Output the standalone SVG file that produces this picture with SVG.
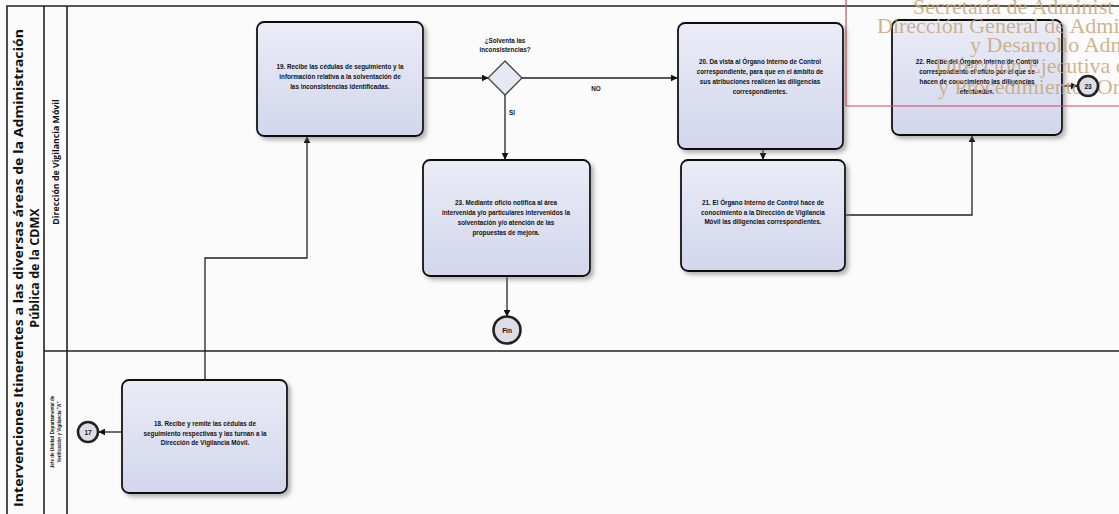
<svg xmlns="http://www.w3.org/2000/svg" width="1119" height="514" viewBox="0 0 1119 514">
  <defs>
    <linearGradient id="taskFill" x1="0" y1="0" x2="0" y2="1">
      <stop offset="0" stop-color="#eaecf7"/>
      <stop offset="1" stop-color="#d3d6ec"/>
    </linearGradient>
    <filter id="shadow" x="-10%" y="-10%" width="130%" height="130%">
      <feDropShadow dx="3" dy="3" stdDeviation="2" flood-color="#777" flood-opacity="0.55"/>
    </filter>
    <marker id="arrow" viewBox="0 0 10 10" refX="9" refY="5" markerWidth="7" markerHeight="7" orient="auto" markerUnits="userSpaceOnUse">
      <path d="M0,0 L10,5 L0,10 Z" fill="#111"/>
    </marker>
    <style>
      .frame { fill: none; stroke: #222; stroke-width: 1.6; }
      .task { fill: url(#taskFill); stroke: #111; stroke-width: 1.8; filter: url(#shadow); }
      .tt { font-family: "Liberation Sans", Arial, sans-serif; font-weight: bold; font-size: 6.3px; fill: #111; text-anchor: middle; }
      .flow { fill: none; stroke: #222; stroke-width: 1.3; }
      .end { fill: #dcdde6; stroke: #222; stroke-width: 2.6; }
      .et { font-family: "Liberation Sans", Arial, sans-serif; font-weight: bold; font-size: 6.5px; fill: #111; text-anchor: middle; }
      .title { font-family: "Open Sans", "Liberation Sans", sans-serif; font-weight: bold; font-size: 12.5px; fill: #111; text-anchor: middle; }
      .lane { font-family: "Open Sans", "Liberation Sans", sans-serif; font-weight: bold; font-size: 8.8px; fill: #111; text-anchor: middle; }
      .lane2 { font-family: "Liberation Sans", Arial, sans-serif; font-weight: bold; font-size: 4.6px; fill: #111; text-anchor: middle; }
      .lbl { font-family: "Liberation Sans", Arial, sans-serif; font-weight: bold; font-size: 6.3px; fill: #111; text-anchor: middle; }
      .stamp { font-family: "Liberation Serif", "Times New Roman", serif; font-size: 22px; fill: #c7a679; fill-opacity: 0.85; }
    </style>
  </defs>

  <rect x="0" y="0" width="1119" height="514" fill="#fbfbfb"/>

  <!-- pool and lanes -->
  <g id="pool">
    <path class="frame" d="M1119,6 H7 V514"/>
    <line class="frame" x1="44" y1="6" x2="44" y2="514"/>
    <line class="frame" x1="67" y1="6" x2="67" y2="514"/>
    <line class="frame" x1="44" y1="351" x2="1119" y2="351"/>
    <text class="title" transform="translate(23,268) rotate(-90)" textLength="478" lengthAdjust="spacingAndGlyphs">Intervenciones Itinerentes a las diversas áreas de la Administración</text>
    <text class="title" transform="translate(39,268) rotate(-90)">Pública de la CDMX</text>
    <text class="lane" transform="translate(59,162) rotate(-90)">Dirección de Vigilancia Móvil</text>
    <text class="lane2" transform="translate(54,432) rotate(-90)">Jefe de Unidad Departamental de</text>
    <text class="lane2" transform="translate(61,432) rotate(-90)">Verificación y Vigilancia "A"</text>
  </g>

  <!-- sequence flows -->
  <g id="connectors">
    <path class="flow" d="M205,380 V258 H307 V137" marker-end="url(#arrow)"/>
    <path class="flow" d="M423,78 H488" marker-end="url(#arrow)"/>
    <path class="flow" d="M522,78 H677" marker-end="url(#arrow)"/>
    <path class="flow" d="M505,95 V159" marker-end="url(#arrow)"/>
    <path class="flow" d="M763,149 V159" marker-end="url(#arrow)"/>
    <path class="flow" d="M845,215 H972 V136" marker-end="url(#arrow)"/>
    <path class="flow" d="M1062,86 H1077" marker-end="url(#arrow)"/>
    <path class="flow" d="M507,276 V316" marker-end="url(#arrow)"/>
    <path class="flow" d="M122,432 H99" marker-end="url(#arrow)"/>
    <text class="lbl" x="596" y="91">NO</text>
    <text class="lbl" x="512" y="115">SI</text>
  </g>

  <g id="task18">
    <rect class="task" x="122" y="380" width="165" height="113" rx="7"/>
    <text class="tt" x="205" y="426">18. Recibe y remite las cédulas de</text>
    <text class="tt" x="205" y="435.5">seguimiento respectivas y las turnan a la</text>
    <text class="tt" x="205" y="445">Dirección de Vigilancia Móvil.</text>
  </g>

  <g id="task19">
    <rect class="task" x="257" y="22" width="166" height="114" rx="7"/>
    <text class="tt" x="340" y="69">19. Recibe las cédulas de seguimiento y la</text>
    <text class="tt" x="340" y="79">información relativa a la solventación de</text>
    <text class="tt" x="340" y="89">las inconsistencias identificadas.</text>
  </g>

  <g id="gateway">
    <path d="M505,61 L522,78 L505,95 L488,78 Z" fill="#e6e8f4" stroke="#444" stroke-width="1.3"/>
    <text class="lbl" x="505" y="43">¿Solventa las</text>
    <text class="lbl" x="505" y="52">inconsistencias?</text>
  </g>

  <g id="task20">
    <rect class="task" x="678" y="23" width="165" height="126" rx="7"/>
    <text class="tt" x="760" y="64">20. Da vista al Órgano Interno  de Control</text>
    <text class="tt" x="760" y="74">correspondiente, para que en el ámbito de</text>
    <text class="tt" x="760" y="84">sus atribuciones realicen las diligencias</text>
    <text class="tt" x="760" y="94">correspondientes.</text>
  </g>

  <g id="task21">
    <rect class="task" x="681" y="160" width="164" height="111" rx="7"/>
    <text class="tt" x="763" y="205">21. El Órgano Interno de Control hace de</text>
    <text class="tt" x="763" y="214.5">conocimiento a la Dirección de Vigilancia</text>
    <text class="tt" x="763" y="224">Móvil las diligencias correspondientes.</text>
  </g>

  <g id="task22">
    <rect class="task" x="892" y="20" width="170" height="115" rx="7"/>
    <text class="tt" x="977" y="64">22. Recibe del Órgano Interno de Control</text>
    <text class="tt" x="977" y="74">correspondiente el oficio por el que se</text>
    <text class="tt" x="977" y="84">hacen de conocimiento las diligencias</text>
    <text class="tt" x="977" y="94">efectuadas.</text>
  </g>

  <g id="task23">
    <rect class="task" x="423" y="160" width="167" height="116" rx="7"/>
    <text class="tt" x="506" y="205">23. Mediante oficio notifica al área</text>
    <text class="tt" x="506" y="215">intervenida y/o particulares intervenidos la</text>
    <text class="tt" x="506" y="225">solventación y/o atención de las</text>
    <text class="tt" x="506" y="235">propuestas de mejora.</text>
  </g>

  <g id="end17">
    <circle class="end" cx="88" cy="432" r="10"/>
    <text class="et" x="88" y="434.5">17</text>
  </g>

  <g id="endFin">
    <circle class="end" cx="507" cy="330" r="13.5"/>
    <text class="et" x="507" y="332.5">Fin</text>
  </g>

  <!-- reception stamp -->
  <g id="stamp">
    <path d="M846,0 V106 H1119" fill="none" stroke="#c94b6a" stroke-width="1.2"/>
    <text class="stamp" x="913" y="14">Secretaría  de Administ</text>
    <text class="stamp" x="877" y="33">Dirección General de Admi</text>
    <text class="stamp" x="970" y="52">y Desarrollo Adm</text>
    <text class="stamp" x="935" y="73" fill-opacity="0.55">Dirección Ejecutiva de</text>
    <text class="stamp" x="938" y="94" fill-opacity="0.55">y Procedimientos Or</text>
  </g>

  <g id="end23">
    <circle class="end" cx="1088" cy="86" r="10"/>
    <text class="et" x="1088" y="88.5">23</text>
  </g>
</svg>
